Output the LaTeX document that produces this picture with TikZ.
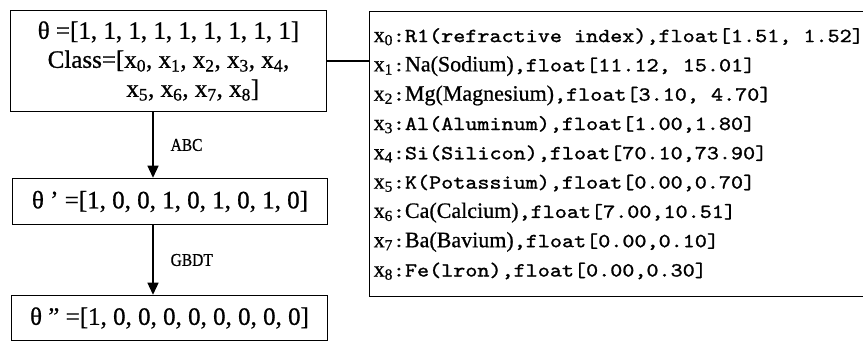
\documentclass[tikz,border=0pt]{standalone}
\usepackage{fontspec}
\setmainfont{Liberation Serif}[FakeBold=0.6]
\newfontfamily\monoff[Extension=.otf,FakeStretch=1.15,FakeBold=1.2]{lmmono10-regular}
\newfontfamily\serifb[FakeBold=0.8]{Liberation Serif}
\newfontfamily\serifn[FakeBold=0.8,FakeStretch=0.86]{Liberation Serif}
\usetikzlibrary{arrows.meta}
\newcommand\tmf{\fontsize{22}{29.3}\selectfont\serifb}
\newcommand\msf{\fontsize{20}{29.3}\selectfont\monoff}
\newcommand\xsub[1]{{\tmf x\textsubscript{#1}}}
\begin{document}
\begin{tikzpicture}[x=1pt,y=1pt,
  boxst/.style={draw, line width=1.5pt, inner sep=0pt, align=center,
    font=\fontsize{25}{29}\selectfont\serifb},
  arr/.style={line width=1.3pt, -{Triangle[length=12pt,width=11pt]}},
  lbl/.style={font=\fontsize{18}{20}\selectfont\serifn, inner sep=0pt, anchor=west, xshift=17pt}]
\useasboundingbox (0,0) rectangle (863,342);
\node[boxst, minimum width=316pt, minimum height=101pt] (b1) at (168.5,281)
  {θ =[1, 1, 1, 1, 1, 1, 1, 1, 1]\\
   Class=[x\textsubscript{0}, x\textsubscript{1}, x\textsubscript{2}, x\textsubscript{3}, x\textsubscript{4},\\
   \phantom{Class=[}x\textsubscript{5}, x\textsubscript{6}, x\textsubscript{7}, x\textsubscript{8}]\phantom{ x\textsubscript{4}}};
\node[boxst, minimum width=315pt, minimum height=46pt] (b2) at (170,140.5)
  {θ ’ =[1, 0, 0, 1, 0, 1, 0, 1, 0]};
\node[boxst, minimum width=316pt, minimum height=45pt] (b3) at (169.5,24)
  {θ ” =[1, 0, 0, 0, 0, 0, 0, 0, 0]};
\node[draw, line width=1.5pt, anchor=west, minimum width=500pt, minimum height=285pt,
  inner sep=0pt] (R) at (368.5,188) {};
\node[anchor=west, inner sep=0pt, align=left, font=\fontsize{20}{29.3}\selectfont]
  (Rt) at ([xshift=5pt]R.west)
  {\xsub{0}{\msf :R1(refractive index),float[1.51, 1.52]}\\
   \xsub{1}{\msf :}{\tmf Na(Sodium)}{\msf ,float[11.12, 15.01]}\\
   \xsub{2}{\msf :}{\tmf Mg(Magnesium)}{\msf ,float[3.10, 4.70]}\\
   \xsub{3}{\msf :Al(Aluminum),float[1.00,1.80]}\\
   \xsub{4}{\msf :Si(Silicon),float[70.10,73.90]}\\
   \xsub{5}{\msf :K(Potassium),float[0.00,0.70]}\\
   \xsub{6}{\msf :}{\tmf Ca(Calcium)}{\msf ,float[7.00,10.51]}\\
   \xsub{7}{\msf :}{\tmf Ba(Bavium)}{\msf ,float[0.00,0.10]}\\
   \xsub{8}{\msf :Fe(lron),float[0.00,0.30]}};
\draw[line width=1.3pt] (b1.east) -- (b1.east -| R.west);
\draw[arr] ([xshift=-15.5pt]b1.south) -- ([xshift=-15.5pt]b1.south |- b2.north)
  node[lbl, midway] (l1) {ABC};
\draw[arr] ([xshift=-17pt]b2.south) -- ([xshift=-17pt]b2.south |- b3.north)
  node[lbl, midway] (l2) {GBDT};
\end{tikzpicture}
\end{document}
